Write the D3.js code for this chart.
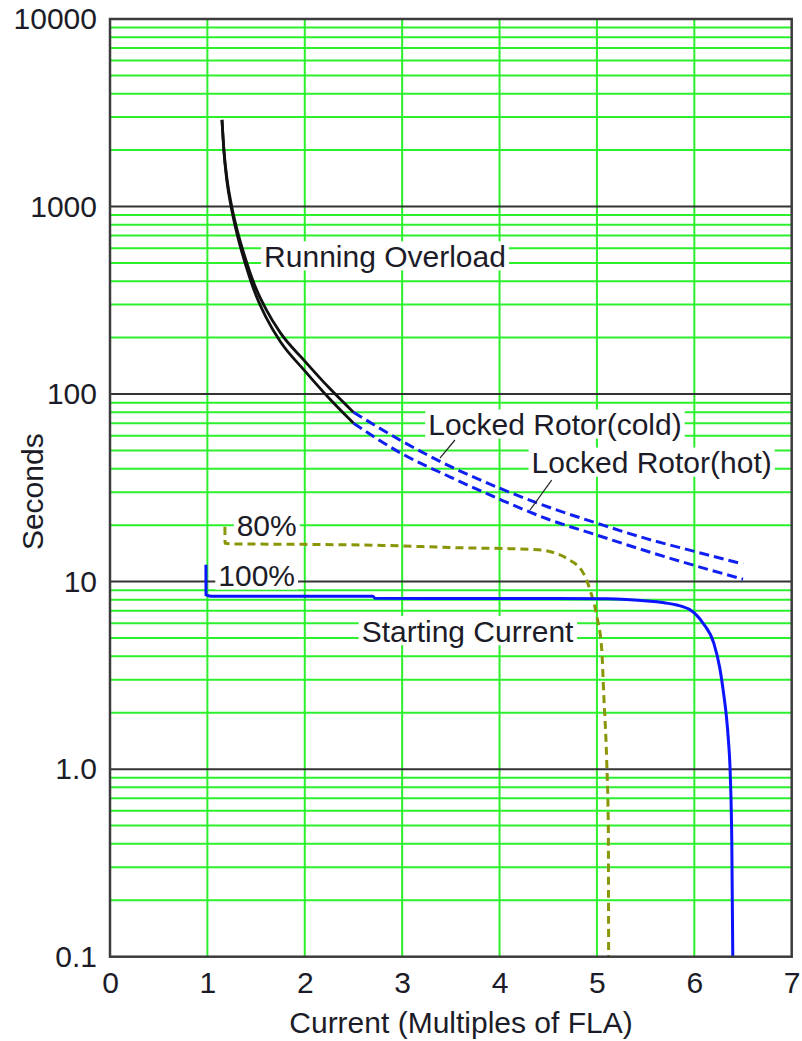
<!DOCTYPE html>
<html>
<head>
<meta charset="utf-8">
<script src="https://cdn.jsdelivr.net/npm/d3@7/dist/d3.min.js"></script>
<style>
  html, body { margin: 0; padding: 0; background: #ffffff; }
  svg { display: block; font-family: "Liberation Sans", Arial, sans-serif; }
</style>
</head>
<body>
<svg id="chart" width="802" height="1041"></svg>
<script>
// Axis ticks
const xTicks = [0, 1, 2, 3, 4, 5, 6, 7];
const yTicks = [0.1, 1, 10, 100, 1000, 10000];
const yTickLabels = ["0.1", "1.0", "10", "100", "1000", "10000"];

// Running overload (solid black), cold and hot
const runX     = [1.15, 1.17, 1.2, 1.25, 1.3, 1.4, 1.5, 1.6, 1.75, 2.0, 2.25, 2.5];
const runColdY = [2900, 2000, 1420, 1000, 770, 510, 365, 285, 212, 150, 108, 80];
const runHotY  = [2900, 1960, 1370, 960, 730, 475, 335, 258, 190, 133, 95, 70];

// Locked rotor (dashed blue), cold and hot
const lockX     = [2.5, 3.0, 3.5, 4.0, 4.5, 5.0, 5.5, 6.0, 6.5];
const lockColdY = [80, 56, 41, 31.5, 25, 20.5, 17, 14.5, 12.4];
const lockHotY  = [70, 48, 36, 27.5, 21.5, 17.7, 14.6, 12.2, 10.3];

// Starting current at 80% voltage (dashed olive)
const start80X = [1.18, 1.181, 1.25, 2.0, 2.8, 3.5, 4.4, 4.55, 4.69, 4.86, 4.93, 5.0, 5.05, 5.07, 5.1, 5.117, 5.12];
const start80Y = [19.6, 16.0, 15.9, 15.8, 15.6, 15.2, 14.8, 14.3, 13.3, 11.1, 9.0, 6.5, 4.3, 2.5, 1.12, 0.49, 0.1];

// Starting current at 100% voltage (solid blue)
const start100X = [0.985, 0.986, 1.05, 2.7, 2.72, 5.1, 5.55, 5.7, 5.82, 5.96, 6.02, 6.09, 6.2, 6.26, 6.3, 6.33, 6.35, 6.37, 6.385, 6.395];
const start100Y = [12.3, 8.5, 8.35, 8.35, 8.15, 8.1, 7.85, 7.7, 7.5, 7.05, 6.65, 6.0, 4.7, 3.5, 2.55, 1.9, 1.43, 0.91, 0.4, 0.1];

// Curve labels: text, anchor, x (multiples of FLA), y (seconds) of the baseline
const labelText   = ["Running Overload", "Locked Rotor(cold)", "Locked Rotor(hot)", "80%", "100%", "Starting Current"];
const labelAnchor = ["middle", "middle", "middle", "start", "start", "start"];
const labelX      = [2.824, 4.569, 5.562, 1.301, 1.112, 2.584];
const labelY      = [477, 60.5, 37.9, 17.5, 9.48, 4.79];

// Leader lines from the locked rotor labels to their curves: [x1, y1, x2, y2]
const leaders = [
  [3.542, 56.9, 3.388, 45.5],
  [4.535, 34.8, 4.313, 24.1]
];

const svg = d3.select("#chart");
const plotL = 110, plotR = 791.7, plotT = 19, plotB = 956.7;
const fontSize = 30;
const textColor = "#1c1c28";

const x = d3.scaleLinear().domain([0, 7]).range([plotL, plotR]);
const y = d3.scaleLog().domain([0.1, 10000]).range([plotB, plotT]);

// Minor gridlines: 2..9 within every decade
const minorY = [];
for (let e = -1; e < 4; e++) {
  for (let m = 2; m <= 9; m++) minorY.push(m * Math.pow(10, e));
}

const grid = svg.append("g");
grid.selectAll("line.hminor").data(minorY).enter().append("line")
  .attr("x1", plotL).attr("x2", plotR)
  .attr("y1", d => y(d)).attr("y2", d => y(d))
  .attr("stroke", "#2cf02c").attr("stroke-width", 2);

grid.selectAll("line.vgrid").data(xTicks.slice(1, -1)).enter().append("line")
  .attr("x1", d => x(d)).attr("x2", d => x(d))
  .attr("y1", plotT).attr("y2", plotB)
  .attr("stroke", "#2cf02c").attr("stroke-width", 2);

grid.selectAll("line.hmajor").data(yTicks.slice(1, -1)).enter().append("line")
  .attr("x1", plotL).attr("x2", plotR)
  .attr("y1", d => y(d)).attr("y2", d => y(d))
  .attr("stroke", "#333333").attr("stroke-width", 2);

// Label layers: white backgrounds, then curves, then text
const labelBg = svg.append("g");
const curves = svg.append("g").attr("fill", "none");
const labelFg = svg.append("g");

labelText.forEach((t, i) => {
  const by = y(labelY[i]);
  const txt = labelFg.append("text")
    .attr("x", x(labelX[i])).attr("y", by)
    .attr("text-anchor", labelAnchor[i])
    .attr("font-size", fontSize)
    .attr("fill", textColor)
    .text(t);
  const bb = txt.node().getBBox();
  labelBg.append("rect")
    .attr("x", bb.x - 3).attr("width", bb.width + 6)
    .attr("y", by - 0.85 * fontSize).attr("height", 0.97 * fontSize)
    .attr("fill", "#ffffff");
});

// Curves
const line = d3.line().x(d => x(d[0])).y(d => y(d[1])).curve(d3.curveMonotoneX);
const zip = (xs, ys) => xs.map((v, i) => [v, ys[i]]);

curves.append("path").datum(zip(runX, runHotY))
  .attr("d", line).attr("stroke", "#111111").attr("stroke-width", 2.8);
curves.append("path").datum(zip(runX, runColdY))
  .attr("d", line).attr("stroke", "#111111").attr("stroke-width", 2.8);

curves.append("path").datum(zip(lockX, lockColdY))
  .attr("d", line).attr("stroke", "#1020f0").attr("stroke-width", 3)
  .attr("stroke-dasharray", "10,5");
curves.append("path").datum(zip(lockX, lockHotY))
  .attr("d", line).attr("stroke", "#1020f0").attr("stroke-width", 3)
  .attr("stroke-dasharray", "10,5");

curves.append("path").datum(zip(start80X, start80Y))
  .attr("d", line).attr("stroke", "#8a9608").attr("stroke-width", 3)
  .attr("stroke-dasharray", "8,5");

curves.append("path").datum(zip(start100X, start100Y))
  .attr("d", line).attr("stroke", "#0a14ff").attr("stroke-width", 3);

// Leader lines
curves.selectAll("line.leader").data(leaders).enter().append("line")
  .attr("x1", d => x(d[0])).attr("y1", d => y(d[1]))
  .attr("x2", d => x(d[2])).attr("y2", d => y(d[3]))
  .attr("stroke", "#222222").attr("stroke-width", 1.2);

// Plot frame
svg.append("rect")
  .attr("x", plotL).attr("y", plotT)
  .attr("width", plotR - plotL).attr("height", plotB - plotT)
  .attr("fill", "none").attr("stroke", "#3c3c3c").attr("stroke-width", 2.5);

// Axes
const xAxis = svg.append("g")
  .attr("transform", `translate(0,${plotB})`)
  .call(d3.axisBottom(x).tickValues(xTicks).tickSize(0).tickPadding(15).tickFormat(d3.format("d")));
const yAxis = svg.append("g")
  .attr("transform", `translate(${plotL},0)`)
  .call(d3.axisLeft(y).tickValues(yTicks).tickSize(0).tickPadding(13)
    .tickFormat((d, i) => yTickLabels[i]));

[xAxis, yAxis].forEach(a => {
  a.select(".domain").remove();
  a.selectAll("text")
    .attr("font-size", fontSize)
    .attr("font-family", "'Liberation Sans', Arial, sans-serif")
    .attr("fill", textColor);
});

// Axis titles
svg.append("text")
  .attr("x", 461).attr("y", 1033)
  .attr("text-anchor", "middle")
  .attr("font-size", fontSize).attr("fill", textColor)
  .text("Current (Multiples of FLA)");

svg.append("text")
  .attr("transform", "translate(43,491.7) rotate(-90)")
  .attr("text-anchor", "middle")
  .attr("font-size", fontSize).attr("fill", textColor)
  .text("Seconds");
</script>
</body>
</html>
